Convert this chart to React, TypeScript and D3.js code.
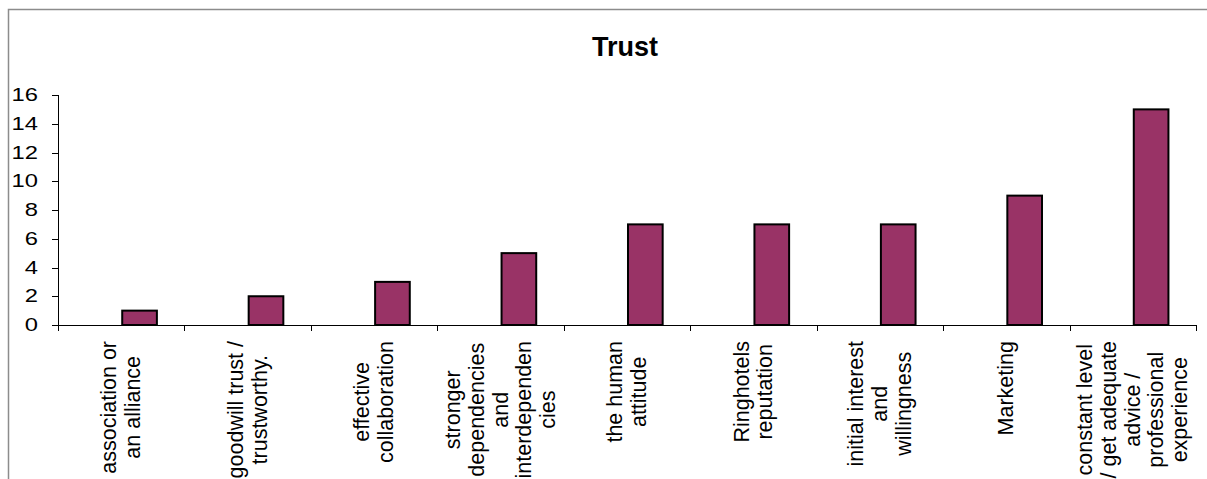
import React, { useMemo } from "react";
import * as d3 from "d3";

const title = "Trust";
const categories: string[][] = [
  ["association or", "an alliance"],
  ["goodwill trust /", "trustworthy."],
  ["effective", "collaboration"],
  ["stronger", "dependencies", "and", "interdependen", "cies"],
  ["the human", "attitude"],
  ["Ringhotels", "reputation"],
  ["initial interest", "and", "willingness"],
  ["Marketing"],
  ["constant level", "/ get adequate", "advice /", "professional", "experience"],
];
const values = [1, 2, 3, 5, 7, 7, 7, 9, 15];
const yTicks = [0, 2, 4, 6, 8, 10, 12, 14, 16];

const W = 1207;
const H = 479;
const FONT = "'Liberation Sans', Arial, Helvetica, sans-serif";

export default function App() {
  const left = 58;
  const right = 1196;
  const top = 95;
  const bottom = 325;

  const keys = categories.map((_, i) => String(i));
  const x = d3.scaleBand<string>().domain(keys).range([left, right]).padding(0);
  const y = d3.scaleLinear().domain([0, 16]).range([bottom, top]);
  const bw = x.bandwidth();
  const barW = bw * 0.29;

  const catFont = 21.5;
  const lineH = 23.7;

  const maxLens = useMemo(() => {
    const c = document.createElement("canvas").getContext("2d");
    return categories.map((lines) => {
      if (!c) return lines.reduce((m, l) => Math.max(m, l.length * catFont * 0.5), 0);
      c.font = `${catFont}px 'Liberation Sans', Arial, sans-serif`;
      return lines.reduce((m, l) => Math.max(m, c.measureText(l).width), 0);
    });
  }, []);

  const labelTop = 341;

  return (
    <svg
      width={W}
      height={H}
      style={{ position: "absolute", left: 0, top: 0, overflow: "hidden", background: "#fff" }}
      fontFamily={FONT}
    >
      <rect x={0} y={0} width={W} height={H} fill="#fff" />
      {/* chart frame */}
      <rect x={8.5} y={9.5} width={1400} height={700} fill="none" stroke="#8c8c8c" strokeWidth={1.5} />

      {/* title */}
      <text x={625} y={56} textAnchor="middle" fontSize={27} fontWeight="bold" fill="#000">
        {title}
      </text>

      {/* bars */}
      {values.map((v, i) => {
        const x0 = (x(String(i)) as number) + bw / 2;
        return (
          <rect
            key={i}
            x={x0 + 1}
            y={y(v)}
            width={barW - 2}
            height={y(0) - y(v)}
            fill="#993366"
            stroke="#000"
            strokeWidth={2}
          />
        );
      })}

      {/* y axis */}
      <line x1={left + 0.5} x2={left + 0.5} y1={top} y2={bottom + 6} stroke="#000" strokeWidth={1} />
      {yTicks.map((t) => (
        <g key={t}>
          <line x1={left - 6} x2={left} y1={Math.round(y(t)) + 0.5} y2={Math.round(y(t)) + 0.5} stroke="#000" strokeWidth={1} />
          <text
            transform={`translate(38, ${y(t)}) scale(1.25,1)`}
            textAnchor="end"
            dominantBaseline="central"
            fontSize={19}
            fill="#000"
          >
            {t}
          </text>
        </g>
      ))}

      {/* x axis */}
      <line x1={left} x2={right} y1={bottom + 0.5} y2={bottom + 0.5} stroke="#000" strokeWidth={1} />
      {keys.map((k, i) => {
        const xe = (x(k) as number) + bw;
        return (
          <line key={"t" + i} x1={Math.round(xe) + 0.5} x2={Math.round(xe) + 0.5} y1={bottom} y2={bottom + 6} stroke="#000" strokeWidth={1} />
        );
      })}

      {/* category labels */}
      {categories.map((lines, i) => {
        const cx = (x(String(i)) as number) + bw / 2;
        const cy = labelTop + maxLens[i] / 2;
        const n = lines.length;
        return (
          <g key={"c" + i} transform={`translate(${cx}, ${cy}) rotate(-90)`}>
            {lines.map((l, j) => (
              <text
                key={j}
                x={0}
                y={(j - (n - 1) / 2) * lineH}
                textAnchor="middle"
                dominantBaseline="central"
                fontSize={catFont}
                fill="#000"
              >
                {l}
              </text>
            ))}
          </g>
        );
      })}
    </svg>
  );
}
